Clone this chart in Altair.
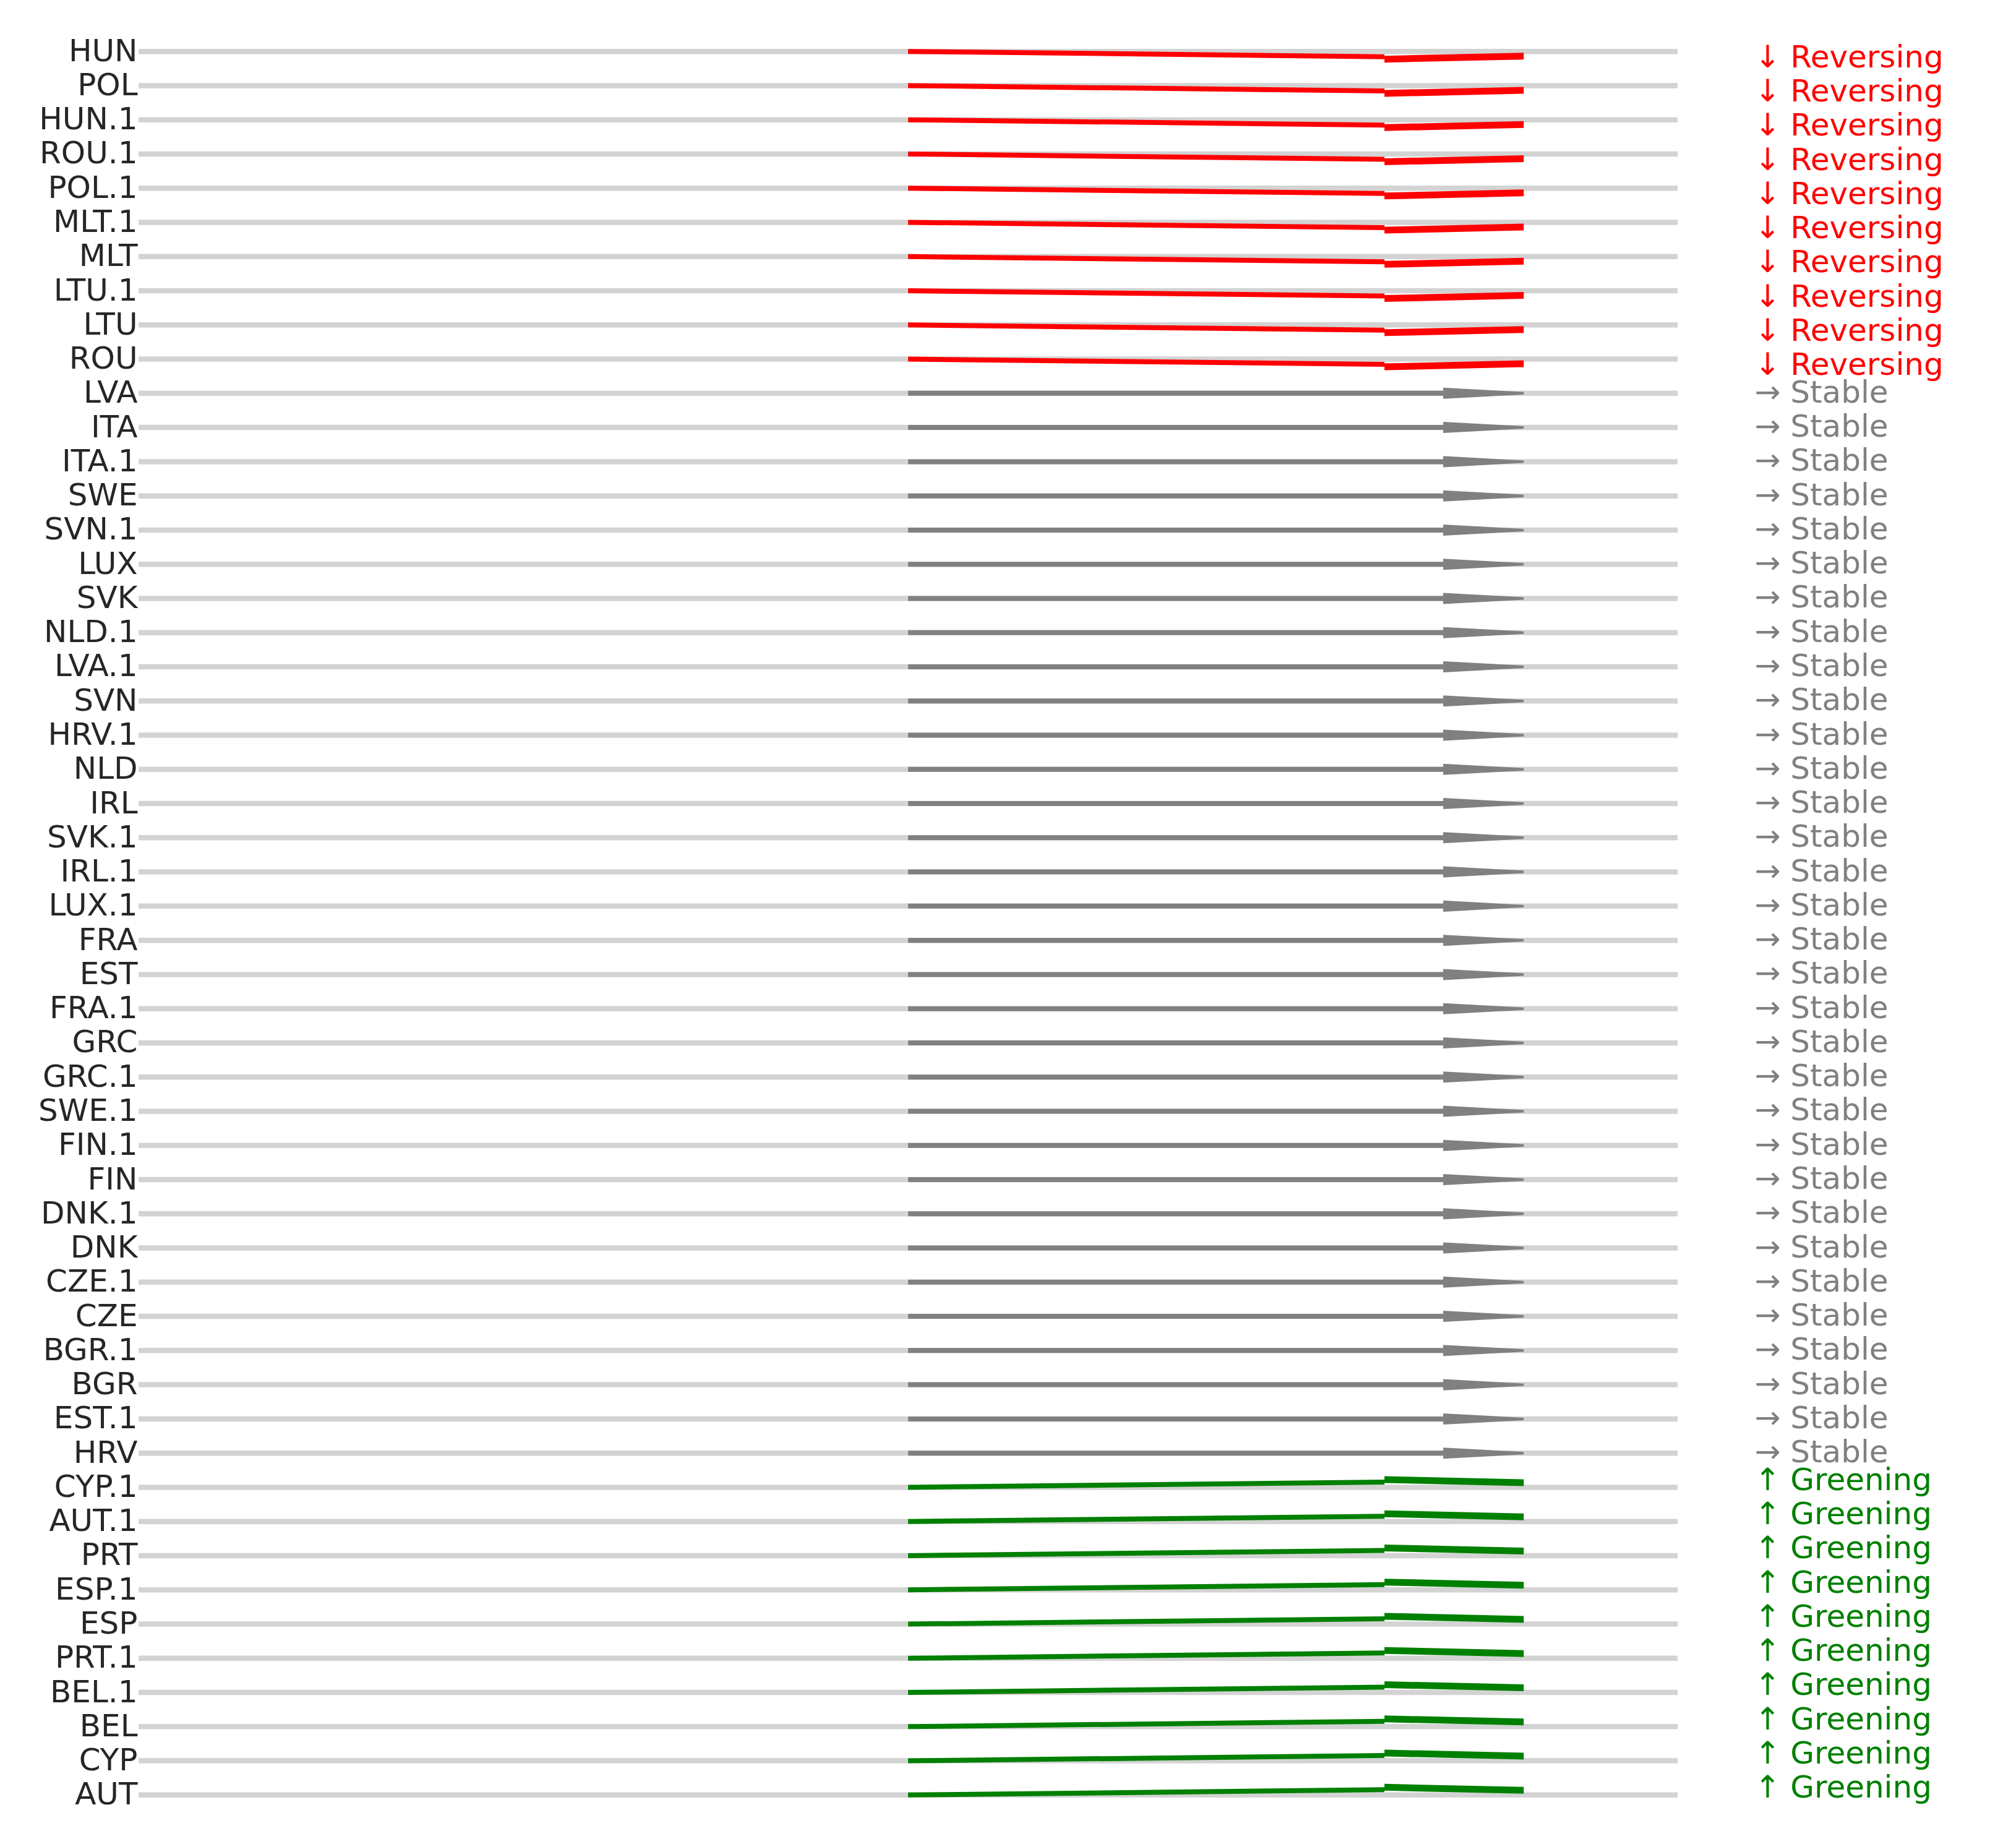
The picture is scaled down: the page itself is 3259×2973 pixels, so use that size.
import json
import altair as alt
import pandas as pd

# ---------------- data ----------------
COUNTRIES = [
    "HUN", "POL", "HUN.1", "ROU.1", "POL.1", "MLT.1", "MLT", "LTU.1", "LTU", "ROU",
    "LVA", "ITA", "ITA.1", "SWE", "SVN.1", "LUX", "SVK", "NLD.1", "LVA.1", "SVN",
    "HRV.1", "NLD", "IRL", "SVK.1", "IRL.1", "LUX.1", "FRA", "EST", "FRA.1", "GRC",
    "GRC.1", "SWE.1", "FIN.1", "FIN", "DNK.1", "DNK", "CZE.1", "CZE", "BGR.1", "BGR",
    "EST.1", "HRV",
    "CYP.1", "AUT.1", "PRT", "ESP.1", "ESP", "PRT.1", "BEL.1", "BEL", "CYP", "AUT",
]
STATUS = [
    "Reversing", "Reversing", "Reversing", "Reversing", "Reversing",
    "Reversing", "Reversing", "Reversing", "Reversing", "Reversing",
    "Stable", "Stable", "Stable", "Stable", "Stable", "Stable", "Stable", "Stable",
    "Stable", "Stable", "Stable", "Stable", "Stable", "Stable", "Stable", "Stable",
    "Stable", "Stable", "Stable", "Stable", "Stable", "Stable", "Stable", "Stable",
    "Stable", "Stable", "Stable", "Stable", "Stable", "Stable", "Stable", "Stable",
    "Greening", "Greening", "Greening", "Greening", "Greening",
    "Greening", "Greening", "Greening", "Greening", "Greening",
]
TRENDS = ["Reversing", "Stable", "Greening"]
TREND_START = [0.50, 0.50, 0.50]
TREND_END = [0.90, 0.90, 0.90]
TREND_CHANGE = [-0.154, 0.0, 0.154]   # vertical drift of the arrow, in rows
TREND_GLYPH = ["\u2193", "\u2192", "\u2191"]
TREND_COLORS = ["#ff0000", "#808080", "#008000"]
X_RANGE = [0.0, 1.0]

# ---------------- style ----------------
FONT = "DejaVu Sans"
FS = 50
LABEL_X = 1.05
LABEL_DRIFT = 1.25          # label sits a little further out than the arrow end
HEAD_LEN = {"Reversing": 0.0905, "Stable": 0.0523, "Greening": 0.0905}
# head edges (top, bottom) relative to the arrow end, in rows, at base and at tip
HEAD_EDGES = {
    "Reversing": ((-0.027, 0.172), (-0.118, 0.081)),
    "Stable": ((-0.163, 0.163), (-0.036, 0.036)),
    "Greening": ((-0.172, 0.027), (-0.081, 0.118)),
}

rows, heads = [], []
for i, (c, s) in enumerate(zip(COUNTRIES, STATUS)):
    k = TRENDS.index(s)
    y_end = i - TREND_CHANGE[k]
    x_base = TREND_END[k] - HEAD_LEN[s]
    rows.append(dict(country=c, status=s, row=i, lo=X_RANGE[0], hi=X_RANGE[1],
                     x0=TREND_START[k], xb=x_base, x1=TREND_END[k], y_end=y_end,
                     y_lab=i - TREND_CHANGE[k] * LABEL_DRIFT,
                     label=f"{TREND_GLYPH[k]} {s}", lx=LABEL_X))
    (bt, bb), (tt, tb) = HEAD_EDGES[s]
    heads.append(dict(country=c, status=s, x=x_base, top=y_end + bt, bot=y_end + bb))
    heads.append(dict(country=c, status=s, x=TREND_END[k], top=y_end + tt, bot=y_end + tb))

df = pd.DataFrame(rows)
hdf = pd.DataFrame(heads)

xs = alt.Scale(domain=X_RANGE, nice=False, zero=False)
ys = alt.Scale(domain=[-0.6, 51.6], reverse=True, nice=False, zero=False)
yaxis = alt.Axis(
    values=list(range(len(COUNTRIES))),
    labelExpr=json.dumps(COUNTRIES) + "[datum.value]",
    title=None, domain=False, ticks=False, tickSize=0, grid=False,
    labelPadding=2, labelFontSize=FS, labelFont=FONT, labelColor="#262626",
    labelOverlap=False, labelFlush=False,
)
cs = alt.Scale(domain=TRENDS, range=TREND_COLORS)

base = alt.Chart(df)

bg = base.mark_rule(color="#d3d3d3", strokeWidth=8.5).encode(
    x=alt.X("lo:Q", scale=xs, axis=None),
    x2="hi:Q",
    y=alt.Y("row:Q", scale=ys, axis=yaxis),
)

shaft = base.mark_rule(strokeWidth=8).encode(
    x=alt.X("x0:Q", scale=xs, axis=None),
    x2="xb:Q",
    y=alt.Y("row:Q", scale=ys, axis=yaxis),
    y2="y_end:Q",
    color=alt.Color("status:N", scale=cs, legend=None),
)

head = alt.Chart(hdf).mark_area(opacity=1).encode(
    x=alt.X("x:Q", scale=xs, axis=None),
    y=alt.Y("top:Q", scale=ys, axis=yaxis),
    y2="bot:Q",
    detail="country:N",
    color=alt.Color("status:N", scale=cs, legend=None),
)

text = base.mark_text(align="left", baseline="middle", font=FONT, fontSize=FS).encode(
    x=alt.X("lx:Q", scale=xs, axis=None),
    y=alt.Y("y_lab:Q", scale=ys, axis=yaxis),
    text="label:N",
    color=alt.Color("status:N", scale=cs, legend=None),
)

chart = (
    alt.layer(bg, shaft, head, text)
    .properties(
        width=2488, height=2885,
        autosize=alt.AutoSizeParams(type="none"),
        padding={"left": 216, "top": 42, "right": 520, "bottom": 20},
    )
    .configure_view(stroke=None)
)

chart.save("out.html", embed_options={"renderer": "svg", "actions": False})
